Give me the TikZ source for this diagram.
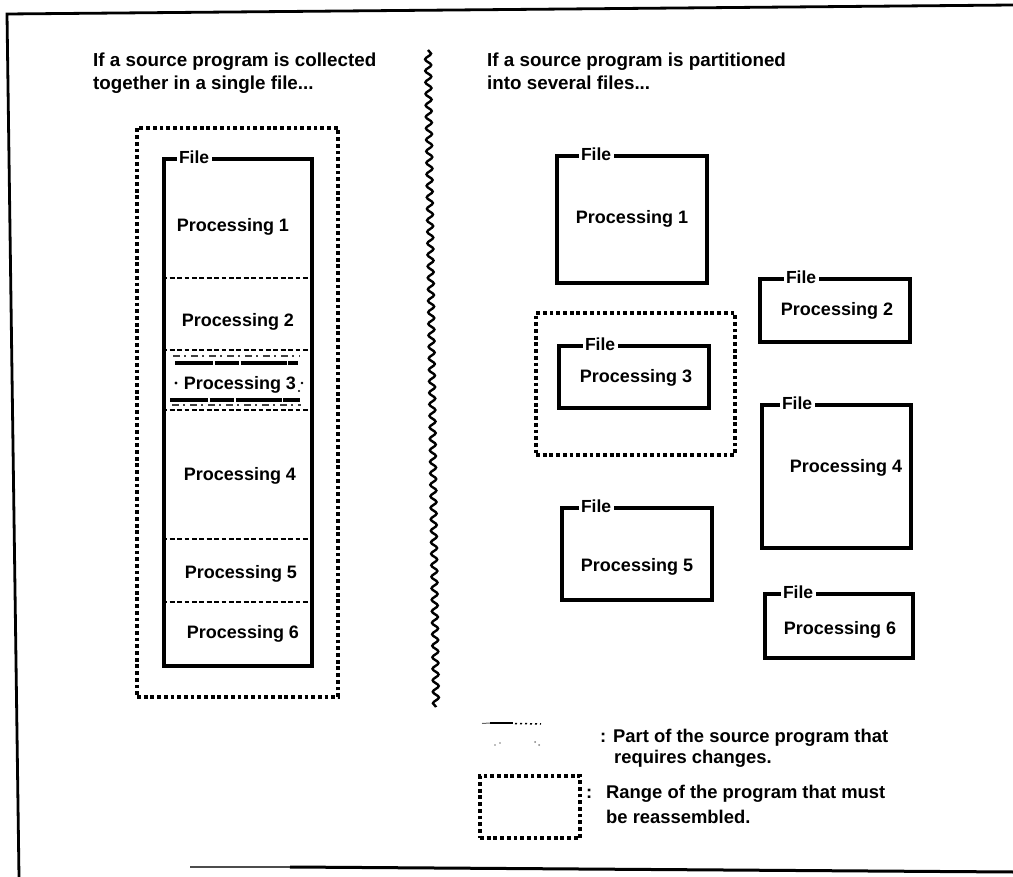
\documentclass[tikz,border=0pt]{standalone}
\usepackage{fontspec}
\setmainfont{Liberation Sans}
\usetikzlibrary{decorations.pathmorphing}

\begin{document}
\begin{tikzpicture}[x=1pt,y=-1pt,
  filebox/.style={draw, line width=3.4pt, inner sep=0pt},
  rangebox/.style={draw, line width=3.1pt, dash pattern=on 3.8pt off 2.9pt, inner sep=0pt},
  sepline/.style={line width=2.9pt, dash pattern=on 4.8pt off 2.6pt},
  hatchline/.style={line width=3.4pt, dash pattern=on 38pt off 1.5pt on 24pt off 2pt on 46pt off 1.5pt},
  faintline/.style={line width=1.4pt, dash pattern=on 7pt off 4pt on 2pt off 5pt, black!75},
  proc/.style={font=\bfseries\fontsize{18}{22}\selectfont, inner sep=0pt},
  filetag/.style={fill=white, inner xsep=2.5pt, inner ysep=0pt, anchor=west,
                  font=\bfseries\fontsize{17.5}{20}\selectfont},
  heading/.style={font=\bfseries\fontsize{18.8}{23}\selectfont, anchor=base west, inner sep=0pt},
  legend/.style={font=\bfseries\fontsize{18.4}{22}\selectfont, anchor=base west, inner sep=0pt},
]
\useasboundingbox (0,0) rectangle (1013,877);

% outer frame (open on the right)
\coordinate (ftl) at (7,14);
\coordinate (ftr) at (1013,5);
\coordinate (fbl) at (19,877);
\coordinate (fbs) at (190,867);
\coordinate (fbr) at (1013,872);
\draw[line width=2.8pt] (fbl) -- (ftl) -- (ftr);
\draw[line width=1.3pt, black!70] (fbs) -- (290,867);
\draw[line width=3pt] (290,867) -- (fbr);

% headings
\node[heading] (hl1) at (93,67) {If a source program is collected};
\node[heading] (hl2) at (93,90) {together in a single file...};
\node[heading] (hr1) at (487,67) {If a source program is partitioned};
\node[heading] (hr2) at (487,90) {into several files...};

% wavy divider
\coordinate (wtop) at (428,50);
\coordinate (wbot) at (436,707);
\draw[line width=2.4pt, decorate,
      decoration={snake, segment length=11.5pt, amplitude=3pt}] (wtop) -- (wbot);

% ---------- single file ----------
\node[rangebox, minimum width=201pt, minimum height=569pt] (lrange) at (237.5,412.5) {};
\node[filebox, minimum width=148pt, minimum height=507pt] (lfile) at (238,412.5) {};
\node[filetag] (lftag) at ([xshift=14pt]lfile.north west) {File};

\foreach \yy/\nm in {278/s1, 350/s2, 410/s3, 539/s4, 602/s5}{
  \coordinate (\nm a) at (lfile.west |- 0,\yy);
  \coordinate (\nm b) at (lfile.east |- 0,\yy);
  \draw[sepline] (\nm a) -- (\nm b);
}

% the changed part inside Processing 3
\draw[faintline] (173,356) -- (300,356);
\draw[hatchline] (175,363) -- (298,363);
\draw[hatchline] (170,400) -- (300,400);
\draw[faintline] (172,405) -- (301,405);
\fill (176,383) circle (1.6);
\fill (302,383) circle (1.4);
\fill (299,391) circle (1.1);

\node[proc] (lp1) at (233,227) {Processing 1};
\node[proc] (lp2) at (238,322) {Processing 2};
\node[proc] (lp3) at (240,385) {Processing 3};
\node[proc] (lp4) at (240,476) {Processing 4};
\node[proc] (lp5) at (241,574) {Processing 5};
\node[proc] (lp6) at (243,634) {Processing 6};

% ---------- several files ----------
\node[filebox, minimum width=150pt, minimum height=127pt] (r1) at (632,219.5) {};
\node[filetag] (r1tag) at ([xshift=23pt]r1.north west) {File};
\node[proc] (rp1) at (632,219) {Processing 1};

\node[filebox, minimum width=150pt, minimum height=63pt] (r2) at (835,310.5) {};
\node[filetag] (r2tag) at ([xshift=25pt]r2.north west) {File};
\node[proc] (rp2) at (837,311) {Processing 2};

\node[rangebox, minimum width=199pt, minimum height=142pt] (r3range) at (635.5,384) {};
\node[filebox, minimum width=150pt, minimum height=62pt] (r3) at (634,377) {};
\node[filetag] (r3tag) at ([xshift=25pt]r3.north west) {File};
\node[proc] (rp3) at (636,378) {Processing 3};

\node[filebox, minimum width=149pt, minimum height=143pt] (r4) at (836.5,476.5) {};
\node[filetag] (r4tag) at ([xshift=19pt]r4.north west) {File};
\node[proc] (rp4) at (846,468) {Processing 4};

\node[filebox, minimum width=150pt, minimum height=92pt] (r5) at (637,554) {};
\node[filetag] (r5tag) at ([xshift=18pt]r5.north west) {File};
\node[proc] (rp5) at (637,567) {Processing 5};

\node[filebox, minimum width=148pt, minimum height=64pt] (r6) at (839,626) {};
\node[filetag] (r6tag) at ([xshift=17pt]r6.north west) {File};
\node[proc] (rp6) at (840,630) {Processing 6};

% ---------- legend ----------
\draw[line width=1pt, black!60] (482,723.5) -- (490,723);
\draw[line width=2.4pt] (490,723) -- (513,723);
\draw[line width=1.5pt, dash pattern=on 2pt off 3pt] (515,723.5) -- (541,724);
\fill[black!50] (495,745) circle (0.9) (500,743) circle (0.9)
                (535,742) circle (1) (539,745) circle (1);

\node[rangebox, minimum width=100pt, minimum height=62pt] (legbox) at (530,807) {};

\node[legend] (c1) at (600,742) {:};
\node[legend] (l1a) at (613,742) {Part of the source program that};
\node[legend] (l1b) at (614,763) {requires changes.};
\node[legend] (c2) at (586,798) {:};
\node[legend] (l2a) at (606,798) {Range of the program that must};
\node[legend] (l2b) at (606,823) {be reassembled.};
\end{tikzpicture}
\end{document}
